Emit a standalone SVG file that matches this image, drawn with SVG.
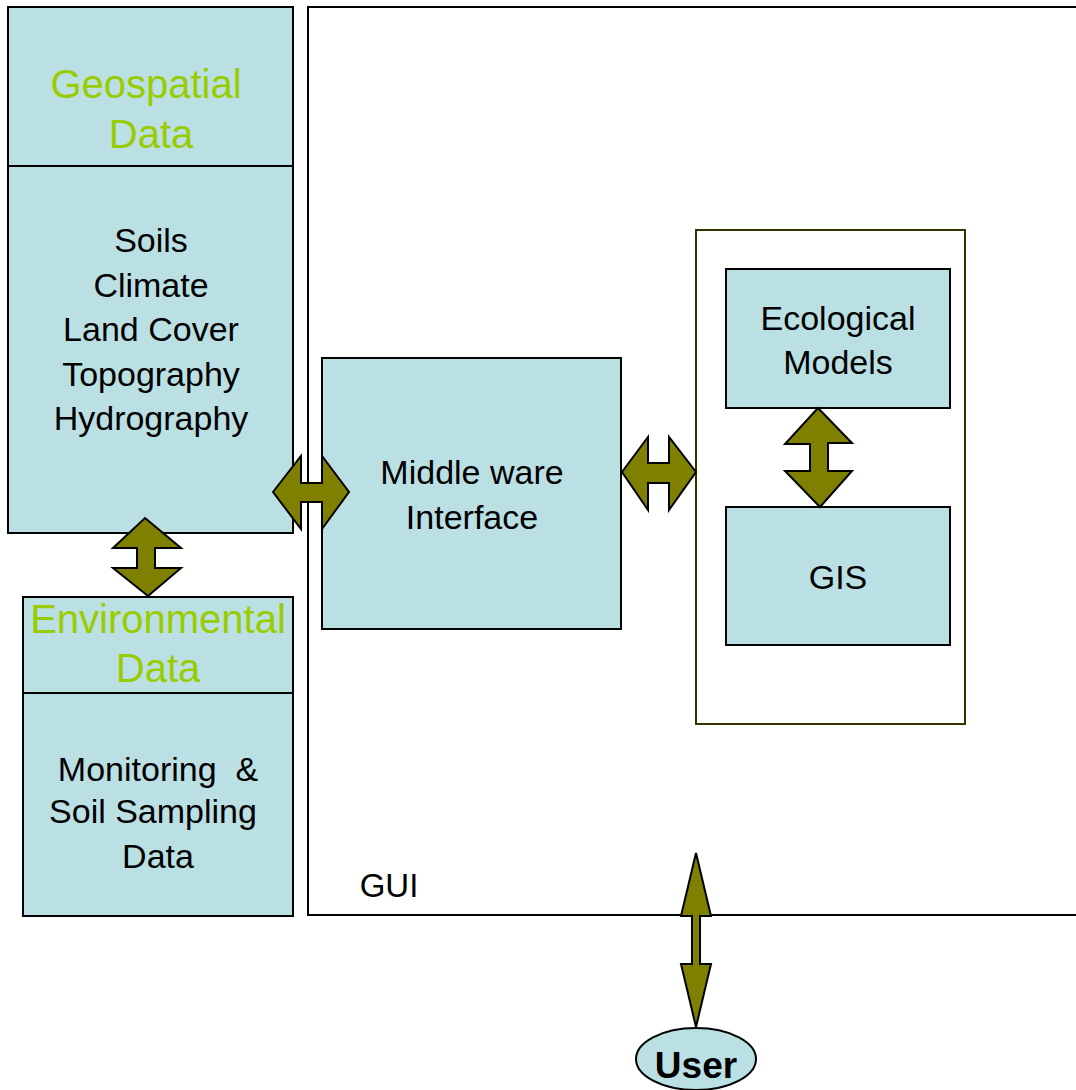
<svg xmlns="http://www.w3.org/2000/svg" width="1076" height="1090" viewBox="0 0 1076 1090">
<style>
.box{fill:#BBE0E3;stroke:#000;stroke-width:2}
.line{stroke:#000;stroke-width:2}
.arrow{fill:#808000;stroke:#000;stroke-width:2;stroke-linejoin:miter}
text{font-family:"Liberation Sans",Arial,sans-serif;text-anchor:middle}
.t{font-size:34px;fill:#000}
.g{font-size:40px;fill:#99CC00}
</style>
<rect width="1076" height="1090" fill="#fff"/>
<g id="gui">
<rect x="308" y="7" width="780" height="908" fill="#fff" stroke="#000" stroke-width="2"/>
<text class="t" x="389" y="897" style="font-size:33px">GUI</text>
</g>
<g id="geospatial">
<rect class="box" x="8" y="7" width="285" height="526"/>
<line class="line" x1="8" y1="166" x2="293" y2="166"/>
<text class="g" x="146" y="98">Geospatial</text>
<text class="g" x="151" y="148">Data</text>
<text class="t" x="151" y="252">Soils</text>
<text class="t" x="151" y="297">Climate</text>
<text class="t" x="151" y="341">Land Cover</text>
<text class="t" x="151" y="386">Topography</text>
<text class="t" x="151" y="430">Hydrography</text>
</g>
<g id="environmental">
<rect class="box" x="23" y="597" width="270" height="319"/>
<line class="line" x1="23" y1="693" x2="293" y2="693"/>
<text class="g" x="158" y="633">Environmental</text>
<text class="g" x="158" y="682">Data</text>
<text class="t" x="158" y="781" xml:space="preserve">Monitoring  &amp;</text>
<text class="t" x="153" y="823">Soil Sampling</text>
<text class="t" x="158" y="868">Data</text>
</g>
<g id="middleware">
<rect class="box" x="322" y="358" width="299" height="271"/>
<text class="t" x="472" y="484">Middle ware</text>
<text class="t" x="472" y="529">Interface</text>
</g>
<g id="models-container">
<rect x="696" y="230" width="269" height="494" fill="#fff" stroke="#333300" stroke-width="2"/>
</g>
<g id="ecological">
<rect class="box" x="726" y="269" width="224" height="139"/>
<text class="t" x="838" y="330">Ecological</text>
<text class="t" x="838" y="374">Models</text>
</g>
<g id="gis">
<rect class="box" x="726" y="507" width="224" height="138"/>
<text class="t" x="838" y="589">GIS</text>
</g>
<g id="user">
<ellipse cx="696" cy="1059" rx="60" ry="31" fill="#BBE0E3" stroke="#000" stroke-width="2"/>
<text x="696" y="1078" style="font-size:37px;font-weight:bold;fill:#000">User</text>
</g>
<g id="connectors">
<polygon class="arrow" points="273,492 301,456 301,483 322,483 322,456 349,492 322,529 322,502 301,502 301,529"/>
<polygon class="arrow" points="622,472 648,437 648,463 669,463 669,437 696,472 669,510 669,483 648,483 648,510"/>
<polygon class="arrow" points="818,408 852,443 828,443 828,471 852,471 820,507 785,471 810,471 810,444 785,444"/>
<polygon class="arrow" points="145,518 181,548 155,548 155,568 181,568 148,596 113,568 137,568 137,548 113,548"/>
<polygon class="arrow" points="696,853 711,916 700,916 700,964 711,964 696,1027 681,964 692,964 692,916 681,916"/>
</g>
</svg>
